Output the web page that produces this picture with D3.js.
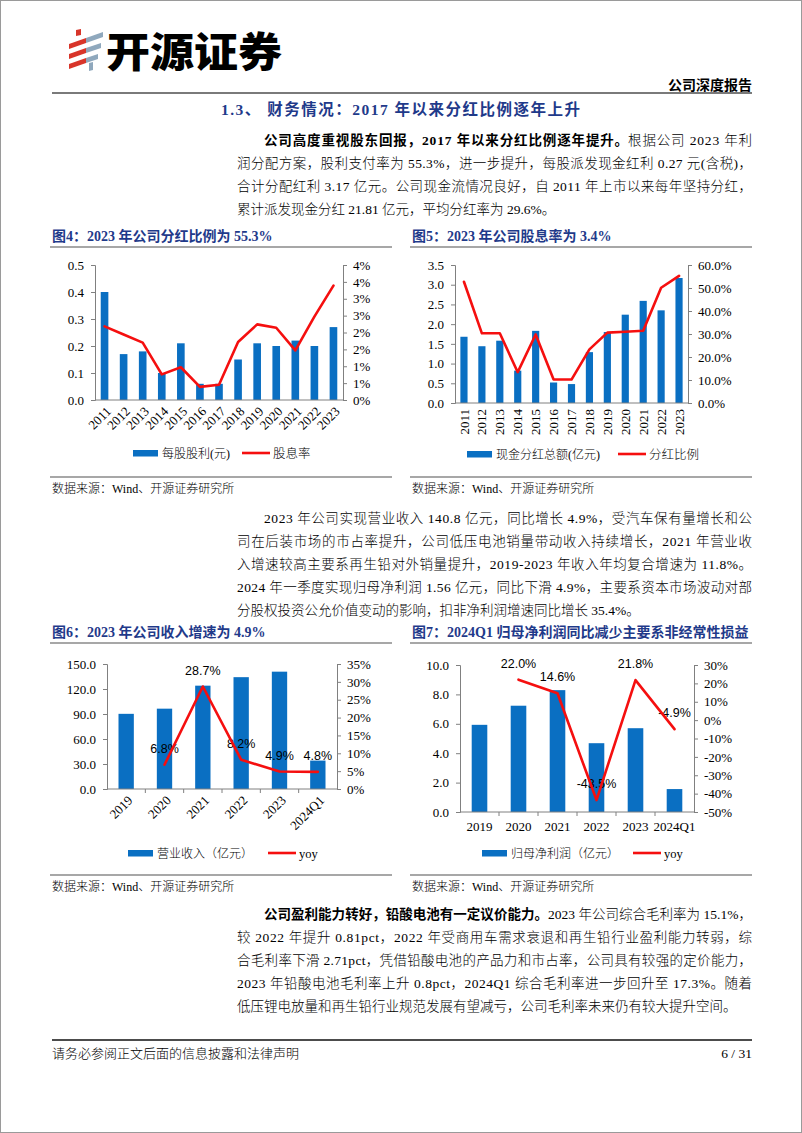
<!DOCTYPE html>
<html><head><meta charset="utf-8">
<script src="https://cdn.jsdelivr.net/npm/d3@7"></script>
<style>body{margin:0;background:#fff}svg{display:block}</style>
</head><body><script>
// ---------------- DATA ----------------
const years13 = ["2011","2012","2013","2014","2015","2016","2017","2018","2019","2020","2021","2022","2023"];
const dpsValues = [0.40,0.17,0.18,0.10,0.21,0.06,0.06,0.15,0.21,0.20,0.22,0.20,0.27];
const yieldValues = [2.18,1.94,1.70,0.76,0.97,0.39,0.45,1.72,2.24,2.14,1.47,2.47,3.39];
const dpsTicks = [0,0.1,0.2,0.3,0.4,0.5];
const yieldTicks = [0,0.5,1,1.5,2,2.5,3,3.5,4];
const yieldTickLabels = ["0%","1%","1%","2%","2%","3%","3%","4%","4%"];

const cashDivValues = [1.68,1.44,1.58,0.82,1.83,0.52,0.48,1.29,1.80,2.24,2.59,2.35,3.17];
const payoutValues = [52.7,30.3,30.3,13.4,29.8,10.2,10.2,23.3,30.6,31.0,31.4,50.1,55.3];
const cashDivTicks = [0,0.5,1,1.5,2,2.5,3,3.5];
const payoutTicks = [0,10,20,30,40,50,60];

const periods6 = ["2019","2020","2021","2022","2023","2024Q1"];
const revenueValues = [90.2,96.4,124.0,134.2,140.8,34.1];
const revenueYoy = [null,6.8,28.7,8.2,4.9,4.8];
const revenueTicks = [0,30,60,90,120,150];
const revenueYoyTicks = [0,5,10,15,20,25,30,35];

const profitValues = [5.93,7.23,8.29,4.68,5.70,1.56];
const profitYoy = [null,22.0,14.6,-43.5,21.8,-4.9];
const profitTicks = [0,2,4,6,8,10];
const profitYoyTicks = [-50,-40,-30,-20,-10,0,10,20,30];

const chartTitles = ["图4：2023 年公司分红比例为 55.3%","图5：2023 年公司股息率为 3.4%","图6：2023 年公司收入增速为 4.9%","图7：2024Q1 归母净利润同比减少主要系非经常性损益"];
const legendBars = ["每股股利(元)","现金分红总额(亿元)","营业收入（亿元）","归母净利润（亿元）"];
const legendLines = ["股息率","分红比例","yoy","yoy"];
const sourceText = "数据来源：Wind、开源证券研究所";

const sectionTitle = "1.3、 财务情况：2017 年以来分红比例逐年上升";
const para1Lead = "公司高度重视股东回报，2017 年以来分红比例逐年提升。";
const para1Lines = ["根据公司 2023 年利","润分配方案，股利支付率为 55.3%，进一步提升，每股派发现金红利 0.27 元(含税)，","合计分配红利 3.17 亿元。公司现金流情况良好，自 2011 年上市以来每年坚持分红，","累计派发现金分红 21.81 亿元，平均分红率为 29.6%。"];
const para2Lead = "";
const para2Lines = ["2023 年公司实现营业收入 140.8 亿元，同比增长 4.9%，受汽车保有量增长和公","司在后装市场的市占率提升，公司低压电池销量带动收入持续增长，2021 年营业收","入增速较高主要系再生铅对外销量提升，2019-2023 年收入年均复合增速为 11.8%。","2024 年一季度实现归母净利润 1.56 亿元，同比下滑 4.9%，主要系资本市场波动对部","分股权投资公允价值变动的影响，扣非净利润增速同比增长 35.4%。"];
const para3Lead = "公司盈利能力转好，铅酸电池有一定议价能力。";
const para3Lines = ["2023 年公司综合毛利率为 15.1%，","较 2022 年提升 0.81pct，2022 年受商用车需求衰退和再生铅行业盈利能力转弱，综","合毛利率下滑 2.71pct，凭借铅酸电池的产品力和市占率，公司具有较强的定价能力，","2023 年铅酸电池毛利率上升 0.8pct，2024Q1 综合毛利率进一步回升至 17.3%。随着","低压锂电放量和再生铅行业规范发展有望减亏，公司毛利率未来仍有较大提升空间。"];
const footerText = "请务必参阅正文后面的信息披露和法律声明";
const pageText = "6 / 31";
const headerRight = "公司深度报告";
const logoText = "开源证券";

// ---------------- STYLE ----------------
const SERIF = '"Liberation Serif","Noto Sans CJK SC",serif';
const SANS = '"Liberation Sans","Noto Sans CJK SC",sans-serif';
const NAVY = "#1f3a8a";
const BLUE = "#0a6fc2";
const RED = "#f50f0f";
const AXIS = "#808080";

const W = 802, H = 1133;
const svg = d3.select("body").append("svg").attr("width", W).attr("height", H);
svg.append("rect").attr("x",0.5).attr("y",0.5).attr("width",W-1).attr("height",H-1).attr("fill","#fff").attr("stroke","#9a9a9a");

function txt(g, x, y, s, o) {
  o = o || {};
  const t = g.append("text").attr("x", x).attr("y", y).text(s)
    .attr("font-family", o.family || SERIF).attr("font-size", o.size || 13.5)
    .attr("fill", o.fill || "#000");
  if (o.weight) t.attr("font-weight", o.weight);
  if (o.anchor) t.attr("text-anchor", o.anchor);
  return t;
}

// ---------------- HEADER ----------------
const logo = svg.append("g");
const redC = "#d8352a", grayC = "#8fa8bd";
[[69,44,86,38],[69,54,86,48],[69,64,86,58]].forEach(function(p){
  logo.append("path").attr("d", `M${p[0]},${p[1]} L${p[2]},${p[3]} L${p[2]},${p[3]+5} L${p[0]},${p[1]+5} Z`).attr("fill", redC);
});
logo.append("path").attr("d","M76,30 L81,29 L81,35 L76,36 Z").attr("fill",redC);
[[86,38,103,32],[86,48,101,43],[86,58,98,54]].forEach(function(p){
  logo.append("path").attr("d", `M${p[0]},${p[1]} L${p[2]},${p[3]} L${p[2]},${p[3]+5} L${p[0]},${p[1]+5} Z`).attr("fill", grayC);
});
logo.append("path").attr("d","M89,63 L93,62 L93,70 L89,71 Z").attr("fill",grayC);
txt(svg, 106, 67, logoText, {family:'"Noto Sans CJK SC",sans-serif', size:41, weight:900}).attr("textLength",176).attr("lengthAdjust","spacingAndGlyphs");

txt(svg, 752, 90, headerRight, {size:14, weight:"bold", anchor:"end"});
svg.append("line").attr("x1",52).attr("x2",752).attr("y1",93).attr("y2",93).attr("stroke","#7a7a7a").attr("stroke-width",2);

txt(svg, 221, 115, sectionTitle, {size:15.5, weight:"bold", fill:NAVY}).attr("textLength",359).attr("lengthAdjust","spacing");

// ---------------- PARAGRAPHS ----------------
const TX0 = 237, TX1 = 752, INDENT = 27, LH = 23;
function paragraph(topBaseline, lead, lines) {
  const g = svg.append("g");
  lines.forEach(function(line, i) {
    const y = topBaseline + i * LH;
    const startX = i === 0 ? TX0 + INDENT : TX0;
    const pieces = [];
    if (i === 0 && lead) pieces.push({s: lead, bold: true});
    pieces.push({s: line, bold: false});
    const nodes = pieces.map(function(p){
      return txt(g, startX, y, p.s, {size:13.5, weight: p.bold ? "bold" : 300});
    });
    const widths = nodes.map(function(n){ return n.node().getComputedTextLength(); });
    const chars = pieces.map(function(p){ return p.s.length; });
    const isLast = i === lines.length - 1;
    let per = 0;
    if (!isLast) {
      const totalW = d3.sum(widths), totalC = d3.sum(chars);
      per = (TX1 - startX - totalW) / (totalC - 1);
    }
    let cx = startX;
    nodes.forEach(function(n, k){
      const tw = widths[k] + per * chars[k];
      n.attr("x", cx);
      if (!isLast) n.attr("textLength", Math.max(1, tw - (k === nodes.length-1 ? per : 0))).attr("lengthAdjust","spacing");
      cx += tw;
    });
  });
}
paragraph(145, para1Lead, para1Lines);
paragraph(523, para2Lead, para2Lines);
paragraph(919, para3Lead, para3Lines);

// ---------------- FOOTER ----------------
svg.append("line").attr("x1",52).attr("x2",752).attr("y1",1040).attr("y2",1040).attr("stroke","#111").attr("stroke-width",1.5);
txt(svg, 52, 1058, footerText, {size:13, weight:300});
txt(svg, 752, 1058, pageText, {size:13.5, anchor:"end"});

// ---------------- CHART BLOCKS ----------------
function block(bx0, bx1, titleY, srcLineY, title) {
  txt(svg, bx0, titleY, title, {size:14, weight:"bold", fill:NAVY});
  svg.append("line").attr("x1",bx0-2).attr("x2",bx1).attr("y1",titleY+6).attr("y2",titleY+6).attr("stroke","#8a8a8a").attr("stroke-width",1.3);
  svg.append("line").attr("x1",bx0-2).attr("x2",bx1).attr("y1",srcLineY).attr("y2",srcLineY).attr("stroke","#8a8a8a").attr("stroke-width",1.3);
  txt(svg, bx0, srcLineY+16, sourceText, {size:12, weight:300});
}
block(52, 392, 241, 477, chartTitles[0]);
block(412, 752, 241, 477, chartTitles[1]);
block(52, 392, 637, 875, chartTitles[2]);
block(412, 752, 637, 875, chartTitles[3]);

function combo(c) {
  const g = svg.append("g");
  const x = d3.scaleBand().domain(c.cats).range([c.x0, c.x1]).paddingInner(0.6).paddingOuter(0.3);
  const yL = d3.scaleLinear().domain(c.lDom).range([c.yB, c.yT]);
  const yR = d3.scaleLinear().domain(c.rDom).range([c.yB, c.yT]);

  // bars
  g.selectAll("rect.bar").data(c.bars).join("rect").attr("class","bar")
    .attr("x", function(d,i){ return x(c.cats[i]); })
    .attr("width", x.bandwidth())
    .attr("y", function(d){ return yL(d); })
    .attr("height", function(d){ return yL(0) - yL(d); })
    .attr("fill", BLUE);

  // axes
  const aL = g.append("g").attr("transform", `translate(${c.x0},0)`)
    .call(d3.axisLeft(yL).tickValues(c.lTicks).tickFormat(c.lFmt).tickSizeOuter(0).tickSize(4).tickPadding(7));
  const aR = g.append("g").attr("transform", `translate(${c.x1},0)`)
    .call(d3.axisRight(yR).tickValues(c.rTicks).tickFormat(c.rFmt).tickSizeOuter(0).tickSize(4).tickPadding(6));
  [aL, aR].forEach(function(a){
    a.select(".domain").attr("stroke", AXIS);
    a.selectAll(".tick line").attr("stroke", AXIS);
    a.selectAll("text").attr("font-family", SERIF).attr("font-size", 13).attr("fill", "#000");
  });
  g.append("line").attr("x1", c.x0).attr("x2", c.x1).attr("y1", c.yB).attr("y2", c.yB).attr("stroke", AXIS);
  if (c.xTicks) {
    c.cats.forEach(function(d, i){
      if (i === 0) return;
      const xx = x(d) - x.step()*0.3;
      g.append("line").attr("x1", xx).attr("x2", xx).attr("y1", c.yB).attr("y2", c.yB + 4).attr("stroke", AXIS);
    });
  }

  // x labels
  c.cats.forEach(function(d){
    const cx = x(d) + x.bandwidth()/2;
    if (c.xMode === "rot45") {
      txt(g, 0, 0, d, {size:13, anchor:"end"}).attr("dy","0.35em")
        .attr("transform", `translate(${cx + 4},${c.yB + 9}) rotate(-45)`);
    } else if (c.xMode === "rot90") {
      txt(g, 0, 0, d, {size:13, anchor:"end"}).attr("dy","0.35em")
        .attr("transform", `translate(${cx},${c.yB + 6}) rotate(-90)`);
    } else {
      txt(g, cx, c.yB + 19, d, {size:13, anchor:"middle"});
    }
  });

  // data labels (drawn before line)
  if (c.labels) {
    c.line.forEach(function(v, i){
      if (v == null) return;
      txt(g, x(c.cats[i]) + x.bandwidth()/2, yR(v) - 12, v.toFixed(1) + "%", {family:SANS, size:12.5, anchor:"middle"});
    });
  }

  // line
  const ln = d3.line().defined(function(d){ return d != null; })
    .x(function(d,i){ return x(c.cats[i]) + x.bandwidth()/2; })
    .y(function(d){ return yR(d); });
  g.append("path").attr("d", ln(c.line)).attr("fill","none").attr("stroke", RED)
    .attr("stroke-width", 2.6).attr("stroke-linejoin","round").attr("stroke-linecap","round");

  // legend
  const ly = c.legY;
  g.append("rect").attr("x", c.legX).attr("y", ly - 3).attr("width", 25).attr("height", 6.5).attr("fill", BLUE);
  txt(g, c.legX + 29, ly + 4.5, c.legBar, {size:12, weight:300});
  g.append("line").attr("x1", c.legLX).attr("x2", c.legLX + 28).attr("y1", ly).attr("y2", ly).attr("stroke", RED).attr("stroke-width", 2.6);
  txt(g, c.legLX + 31, ly + 4.5, c.legLine, {size:12.5, weight:300});
}

combo({cats: years13, bars: dpsValues, line: yieldValues, x0:95, x1:343, yT:265, yB:400,
  lDom:[0,0.5], lTicks: dpsTicks, lFmt: d3.format(".1f"),
  rDom:[0,4], rTicks: yieldTicks, rFmt: function(d,i){ return yieldTickLabels[i]; },
  xMode:"rot45", labels:false, legY:453, legX:133, legLX:242, legBar: legendBars[0], legLine: legendLines[0]});

combo({cats: years13, bars: cashDivValues, line: payoutValues, x0:455, x1:688, yT:265, yB:403,
  lDom:[0,3.5], lTicks: cashDivTicks, lFmt: d3.format(".1f"),
  rDom:[0,60], rTicks: payoutTicks, rFmt: function(d){ return d.toFixed(1) + "%"; },
  xMode:"rot90", labels:false, legY:454, legX:467, legLX:618, legBar: legendBars[1], legLine: legendLines[1]});

combo({cats: periods6, bars: revenueValues, line: revenueYoy, x0:107, x1:337, yT:664, yB:789,
  lDom:[0,150], lTicks: revenueTicks, lFmt: d3.format(".1f"),
  rDom:[0,35], rTicks: revenueYoyTicks, rFmt: function(d){ return d + "%"; },
  xMode:"rot45", labels:true, xTicks:true, legY:853, legX:128, legLX:268, legBar: legendBars[2], legLine: legendLines[2]});

combo({cats: periods6, bars: profitValues, line: profitYoy, x0:460, x1:694, yT:665, yB:812,
  lDom:[0,10], lTicks: profitTicks, lFmt: d3.format(".1f"),
  rDom:[-50,30], rTicks: profitYoyTicks, rFmt: function(d){ return d + "%"; },
  xMode:"flat", labels:true, xTicks:true, legY:853, legX:482, legLX:633, legBar: legendBars[3], legLine: legendLines[3]});
</script></body></html>
